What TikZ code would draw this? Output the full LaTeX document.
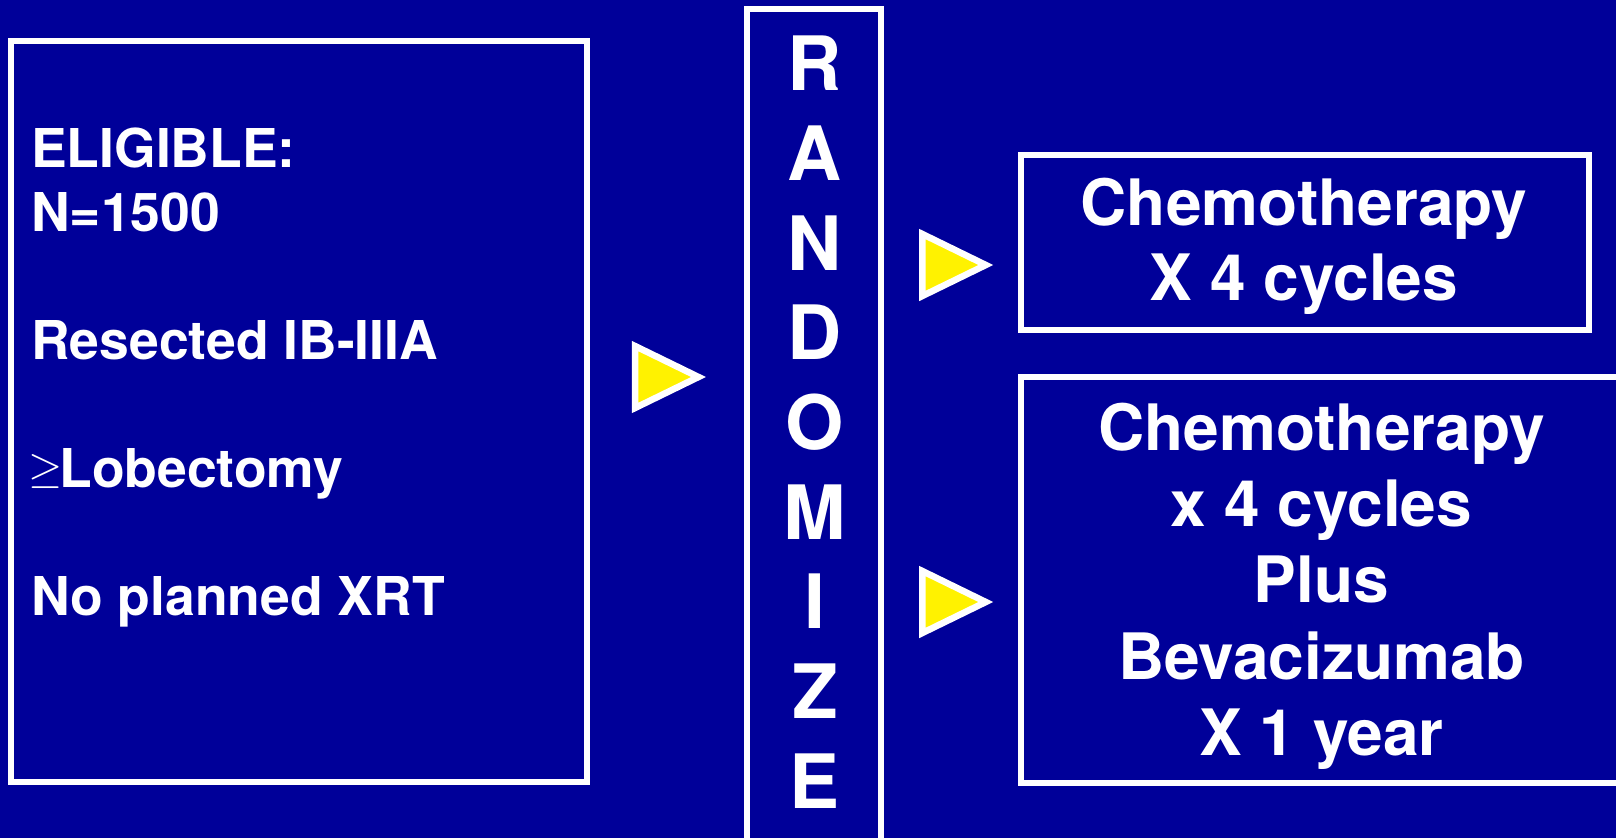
\documentclass[tikz,border=0pt]{standalone}
\usepackage{fontspec}
\usepackage{graphicx}
\setmainfont{TeX Gyre Heros}
\definecolor{slideblue}{RGB}{0,0,153}
\begin{document}
\begin{tikzpicture}[x=1pt, y=-1pt,
  frame/.style={draw=white, line width=6pt},
  pointer/.style={fill=yellow, draw=white, line width=6.5pt, line join=miter},
  body/.style={text=white, inner sep=0pt, font=\bfseries\fontsize{53.5}{64}\selectfont}]
  \useasboundingbox (0,0) rectangle (1616,838);
  \clip (0,0) rectangle (1616,838);
  \fill[slideblue] (0,0) rectangle (1616,838);
  % frames
  \draw[frame] (11,41) rectangle (586.5,782);
  \draw[frame] (747,9) rectangle (880.5,870);
  \draw[frame] (1021,154.5) rectangle (1589,330);
  \draw[frame] (1021,377) rectangle (1650,783);
  % yellow pointers
  \draw[pointer] (635,346) -- ++(63.5,31) -- ++(-63.5,31) -- cycle;
  \draw[pointer] (922.3,234) -- ++(63.5,31) -- ++(-63.5,31) -- cycle;
  \draw[pointer] (922.3,571) -- ++(63.5,31) -- ++(-63.5,31) -- cycle;
  % texts (base anchor = last line)
  \node[body, align=left, anchor=base west] (eligible) at (31,615)
    {ELIGIBLE:\\N=1500\\[64pt]Resected IB-IIIA\\[64pt]%
     \hspace*{-3pt}{\normalsize\raisebox{5pt}{\scalebox{4.4}{$\geq$}}}\hspace*{-3pt}Lobectomy\\[64pt]No planned XRT};
  \node[body, align=center, anchor=base, font=\bfseries\fontsize{75}{89.7}\selectfont] (rand) at (815,808.3)
    {R\\A\\N\\D\\O\\M\\I\\Z\\E};
  \node[body, align=center, anchor=base, font=\bfseries\fontsize{64}{75.7}\selectfont] (armA) at (1304,300.7)
    {Chemotherapy\\X 4 cycles};
  \node[body, align=center, anchor=base, font=\bfseries\fontsize{64}{76.4}\selectfont] (armB) at (1321.5,755.7)
    {Chemotherapy\\x 4 cycles\\Plus\\Bevacizumab\\X 1 year};
\end{tikzpicture}
\end{document}
